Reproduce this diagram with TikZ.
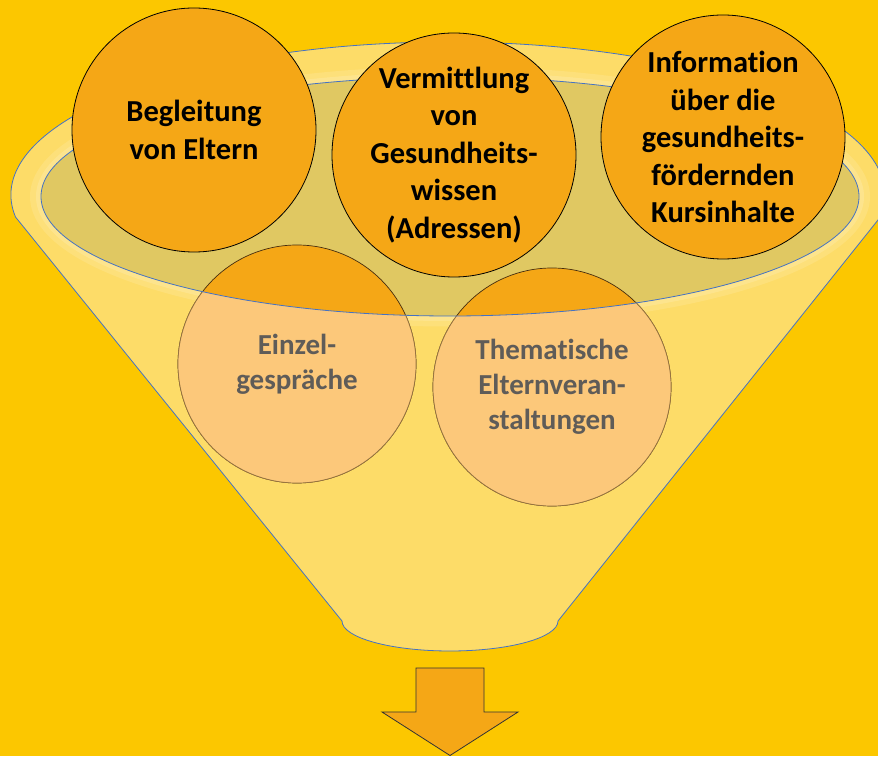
\documentclass[tikz,border=0pt]{standalone}
\usepackage{fontspec}
\setmainfont{Carlito}[Ligatures=NoCommon]
\definecolor{bgcol}{RGB}{252,199,0}
\definecolor{orangecol}{RGB}{245,167,22}
\definecolor{funnelcol}{RGB}{253,220,104}
\definecolor{innercol}{RGB}{224,200,98}
\definecolor{peachcol}{RGB}{252,200,122}
\definecolor{bluecol}{RGB}{68,114,196}
\definecolor{greytext}{RGB}{95,92,88}
\definecolor{darkline}{RGB}{70,45,15}
\definecolor{softline}{RGB}{150,115,65}
\tikzset{
  x=1pt,y=1pt,
  topcirc/.style={circle, draw=black, line width=0.8pt, fill=orangecol, minimum size=244pt, inner sep=0pt, align=center, font=\bfseries\fontsize{30.5}{37.5}\selectfont},
  lowcirc/.style={circle, draw=darkline, line width=0.7pt, fill=orangecol, minimum size=238pt, inner sep=0pt},
  lowtext/.style={align=center, text=greytext, font=\bfseries\fontsize{29}{35}\selectfont},
  blueline/.style={draw=bluecol, line width=0.8pt},
  arrowshape/.style={fill=orangecol, draw=black!80, line width=0.8pt, line join=miter}
}
\begin{document}
\begin{tikzpicture}
\useasboundingbox (0,0) rectangle (878,756);
\fill[bgcol] (0,0) rectangle (878,756);
% funnel body
\coordinate (kl) at (15.5,539);
\coordinate (br) at (558,135);
\path[fill=funnelcol, blueline] (kl) arc[start angle=188.27, end angle=-8.27, x radius=437pt, y radius=153pt]
  -- (br) arc[start angle=0, end angle=-180, x radius=108pt, y radius=30pt] -- cycle;
% soft glow around inner ellipse
\draw[white, opacity=0.12, line width=14pt] (450,559.5) ellipse (413pt and 123pt);
\draw[white, opacity=0.15, line width=6pt] (450,559.5) ellipse (411pt and 121.5pt);
% inner ellipse fill
\fill[innercol] (450,559.5) ellipse (409pt and 119.5pt);
% lower circles
\node[lowcirc] (c4) at (297,392) {};
\node[lowcirc] (c5) at (552,369) {};
\begin{scope}
  \clip (0,559.5) -- (41,559.5) arc[start angle=180, end angle=360, x radius=409pt, y radius=119.5pt] -- (878,559.5) -- (878,0) -- (0,0) -- cycle;
  \fill[peachcol, draw=softline, line width=0.7pt] (c4.center) circle (119pt);
  \fill[peachcol, draw=softline, line width=0.7pt] (c5.center) circle (119pt);
\end{scope}
\node[lowtext] (t4) at (c4) {Einzel-\\gespräche};
\node[lowtext] (t5) at (c5) {Thematische\\Elternveran-\\staltungen};
% inner ellipse outline
\draw[blueline] (450,559.5) ellipse (409pt and 119.5pt);
% top circles
\node[topcirc] (c1) at (194,626) {Begleitung\\von Eltern};
\node[topcirc] (c2) at (454,601) {Vermittlung\\von\\Gesundheits-\\wissen\\(Adressen)};
\node[topcirc] (c3) at (723,619) {Information\\über die\\gesundheits-\\fördernden\\Kursinhalte};
% arrow
\path[arrowshape] (416,88) -- (484,88) -- (484,44) -- (518,44) -- (450,0.5) -- (382,44) -- (416,44) -- cycle;
\end{tikzpicture}
\end{document}
